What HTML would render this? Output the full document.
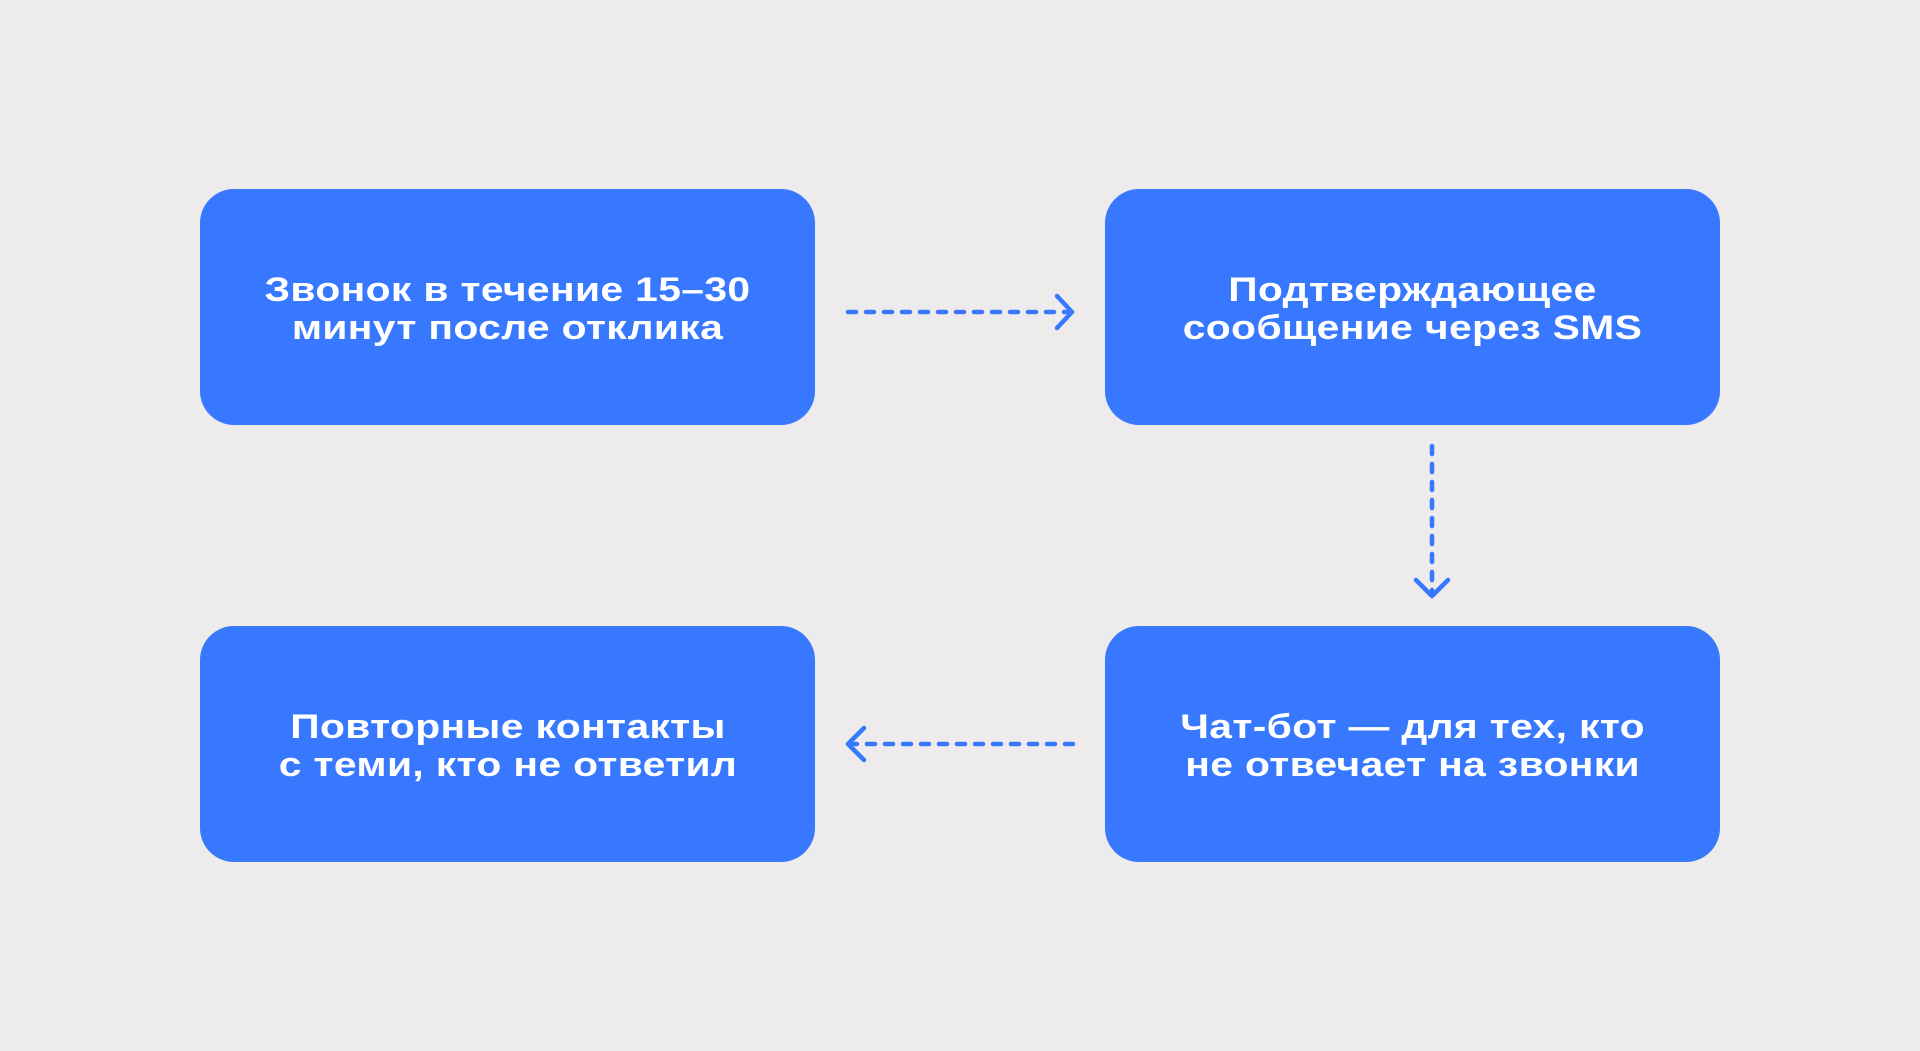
<!DOCTYPE html>
<html><head><meta charset="utf-8"><style>
body{margin:0;width:1920px;height:1051px;background:#edebeb;position:relative;overflow:hidden;font-family:"Liberation Sans",sans-serif}
.b{position:absolute;width:615px;height:236px;background:#3778ff;border-radius:34px;display:flex;align-items:center;justify-content:center;text-align:center;color:#fff;font-size:34px;font-weight:bold;line-height:38px;letter-spacing:0.3px}
.b span{display:inline-block;transform:scaleX(1.2);white-space:nowrap;margin-top:4px}
svg{position:absolute;left:0;top:0}
</style></head><body>
<div class="b" style="left:200px;top:189px"><span>Звонок в течение 15–30<br>минут после отклика</span></div>
<div class="b" style="left:1105px;top:189px"><span>Подтверждающее<br>сообщение через SMS</span></div>
<div class="b" style="left:200px;top:626px"><span>Повторные контакты<br>с теми, кто не ответил</span></div>
<div class="b" style="left:1105px;top:626px"><span>Чат-бот — для тех, кто<br>не отвечает на звонки</span></div>
<svg width="1920" height="1051" fill="none" stroke="#3778ff" stroke-width="4.5" stroke-linecap="round" stroke-linejoin="round">
<line x1="848" y1="312" x2="1070" y2="312" stroke-dasharray="8 10"/>
<polyline points="1057,296 1072,312 1057,328"/>
<line x1="1432" y1="446" x2="1432" y2="592" stroke-dasharray="8 10"/>
<polyline points="1416,580 1432,596 1448,580"/>
<line x1="1073" y1="744" x2="851" y2="744" stroke-dasharray="8 10"/>
<polyline points="864,728 848,744 864,760"/>
</svg>
</body></html>
